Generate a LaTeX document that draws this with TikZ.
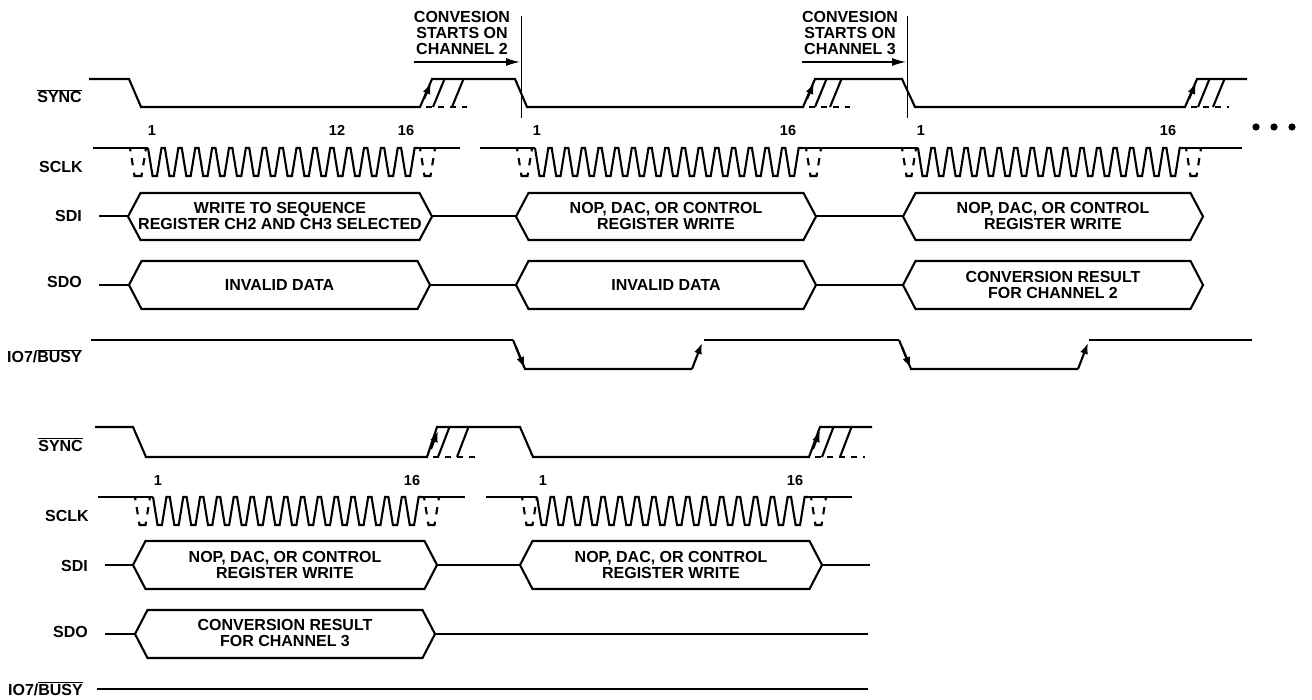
\documentclass[tikz,border=0pt]{standalone}
\usepackage{fontspec}
\setmainfont{Liberation Sans}
\usetikzlibrary{arrows.meta,calc}
\tikzset{
  sig/.style={line width=2.1pt,line join=miter,black},
  thin line/.style={line width=1pt,black},
  dsh/.style={line width=2.1pt,dash pattern=on 6pt off 6pt,black},
  lab/.style={font=\fontsize{16}{16}\selectfont\bfseries,align=center,inner sep=0pt,text=black},
  num/.style={font=\fontsize{14.5}{16}\selectfont\bfseries,inner sep=0pt,text=black,anchor=base},
  side/.style={lab,anchor=base east},
  head/.style={-{Latex[length=11pt,width=8pt]},line width=2.1pt,black}
}
\newcommand\ovl[1]{\leavevmode\vbox{\hrule height 1.2pt\kern 0.8pt\hbox{#1}}}
\newcommand\clk[4]{%
  \pgfmathsetmacro\per{(#2-#1)/16}%
  \draw[sig] (#1,#3) foreach \i in {0,...,15} {
    -- ({#1+(\i+.27)*\per},#4) -- ({#1+(\i+.53)*\per},#4)
    -- ({#1+(\i+.80)*\per},#3) -- ({#1+(\i+1)*\per},#3)};}
% dashed trapezoid: x top-left, top-right, y top, y bottom
\newcommand\dtrap[4]{%
  \draw[sig] ($(#1,#3)!.36!({#1+4.5},#4)$) -- ($(#1,#3)!.62!({#1+4.5},#4)$);
  \draw[sig] ($(#2,#3)!.36!({#2-4.5},#4)$) -- ($(#2,#3)!.62!({#2-4.5},#4)$);
  \draw[sig] ($(#1,#3)!.88!({#1+4.5},#4)$) -- ({#1+4.5},#4) -- ({#2-4.5},#4) -- ($(#2,#3)!.88!({#2-4.5},#4)$);
  \draw[sig] (#1,#3) -- ($(#1,#3)!.12!({#1+4.5},#4)$);
  \draw[sig] (#2,#3) -- ($(#2,#3)!.12!({#2-4.5},#4)$);}
% tip left, tip right, y top, y bottom, name, text
\newcommand\hexa[6]{%
  \draw[sig] (#1,{(#3+#4)/2}) -- ({#1+12.5},#3) -- ({#2-12.5},#3) -- (#2,{(#3+#4)/2}) -- ({#2-12.5},#4) -- ({#1+12.5},#4) -- cycle;
  \node[lab] (#5) at ({(#1+#2)/2},{(#3+#4)/2-0.5}) {#6};}
% rising-edge cluster: foot, y top, y bottom, slant 2 foot, slant 3 foot, dash end
\newcommand\rise[6]{%
  \draw[sig] (#4,#3) -- ({#4+11.5},#2);
  \draw[sig] (#5,#3) -- ({#5+11.5},#2);
  \draw[dsh] ({#1+6},#3) -- (#6,#3);
  \draw[head] ({#1+4},{#3-8}) -- ({#1+11},{#2+4});}
\begin{document}
\begin{tikzpicture}[x=1pt,y=-1pt]
\path[use as bounding box] (0,0) rectangle (1312,700);
% ---- top block
\draw[sig] (89,79) -- (129,79) -- (141,107) -- (420,107) -- (432,79) -- (515,79) -- (527,107) -- (803,107) -- (815,79) -- (902,79) -- (915,107) -- (1185,107) -- (1197,79) -- (1247,79);
\rise{420}{79}{107}{433}{452}{467}
\rise{803}{79}{107}{815}{830}{850}
\rise{1185}{79}{107}{1198}{1213}{1229}
\draw[thin line] (521,16) -- (521,118);
\draw[thin line] (907,16) -- (907,118);
\coordinate (a1s) at (414,62); \coordinate (a1e) at (520,62);
\coordinate (a2s) at (802,62); \coordinate (a2e) at (906,62);
\draw[-{Latex[length=14pt,width=8pt]},line width=1.4pt] (a1s) -- (a1e);
\draw[-{Latex[length=14pt,width=8pt]},line width=1.4pt] (a2s) -- (a2e);
\node[lab] (c1) at (462,33) {CONVESION\\STARTS ON\\CHANNEL 2};
\node[lab] (c2) at (850,33) {CONVESION\\STARTS ON\\CHANNEL 3};
\foreach \x/\t/\n in {152/1/a,337/12/b,406/16/c,537/1/d,788/16/e,921/1/f,1168/16/g}
  \node[num] (n\n) at (\x,136) {\t};
\foreach \x/\n in {1256/a,1274/b,1292/c}
  \fill[black] (\x,127) circle (3.6pt) node (dot\n) {};
% SCLK
\draw[sig] (93,148) -- (148,148);
\clk{148}{418}{148}{176}
\draw[sig] (418,148) -- (460,148);
\draw[sig] (480,148) -- (535,148);
\clk{535}{802}{148}{176}
\draw[sig] (802,148) -- (918,148);
\clk{918}{1183}{148}{176}
\draw[sig] (1183,148) -- (1242,148);
\dtrap{130}{146}{148}{176}
\dtrap{420}{435}{148}{176}
\dtrap{517}{532}{148}{176}
\dtrap{806}{821}{148}{176}
\dtrap{902}{916}{148}{176}
\dtrap{1186}{1201}{148}{176}
% SDI
\draw[sig] (99,216) -- (128,216);
\hexa{128}{432}{193}{240}{h1}{WRITE TO SEQUENCE\\REGISTER CH2 AND CH3 SELECTED}
\draw[sig] (432,216) -- (516,216);
\hexa{516}{816}{193}{240}{h2}{NOP, DAC, OR CONTROL\\REGISTER WRITE}
\draw[sig] (816,216) -- (903,216);
\hexa{903}{1203}{193}{240}{h3}{NOP, DAC, OR CONTROL\\REGISTER WRITE}
% SDO
\draw[sig] (99,285) -- (129,285);
\hexa{129}{430}{261}{309}{h4}{INVALID DATA}
\draw[sig] (430,285) -- (516,285);
\hexa{516}{816}{261}{309}{h5}{INVALID DATA}
\draw[sig] (816,285) -- (903,285);
\hexa{903}{1203}{261}{309}{h6}{CONVERSION RESULT\\FOR CHANNEL 2}
% BUSY
\draw[sig] (91,340) -- (513,340);
\draw[sig] (513,340) -- (525,369) -- (692,369);
\draw[head] (516,347) -- (524.5,368);
\draw[head] (692,369) -- (702,343);
\draw[sig] (704,340) -- (899,340);
\draw[sig] (899,340) -- (911,369) -- (1078,369);
\draw[head] (902,347) -- (910.5,368);
\draw[head] (1078,369) -- (1088,343);
\draw[sig] (1089,340) -- (1252,340);
% labels
\node[side] (l1) at (82,103) {\ovl{SYNC}};
\node[side] (l2) at (83,173) {SCLK};
\node[side] (l3) at (82,222) {SDI};
\node[side] (l4) at (82,288) {SDO};
\node[side] (l5) at (82,363) {IO7/\ovl{BUSY}};
% ---- lower block
\draw[sig] (95,427) -- (133,427) -- (146,457) -- (427,457) -- (437,427) -- (520,427) -- (533,457) -- (809,457) -- (820,427) -- (872,427);
\rise{427}{427}{457}{438}{457}{475}
\rise{809}{427}{457}{822}{840}{865}
\foreach \x/\t/\n in {158/1/a,412/16/b,543/1/c,795/16/d}
  \node[num] (m\n) at (\x,485) {\t};
\draw[sig] (98,497) -- (153,497);
\clk{153}{422}{497}{525}
\draw[sig] (422,497) -- (465,497);
\draw[sig] (486,497) -- (537,497);
\clk{537}{808}{497}{525}
\draw[sig] (808,497) -- (852,497);
\dtrap{135}{150}{497}{525}
\dtrap{424}{439}{497}{525}
\dtrap{522}{537}{497}{525}
\dtrap{811}{826}{497}{525}
\draw[sig] (105,565) -- (133,565);
\hexa{133}{437}{541}{589}{k1}{NOP, DAC, OR CONTROL\\REGISTER WRITE}
\draw[sig] (437,565) -- (520,565);
\hexa{520}{822}{541}{589}{k2}{NOP, DAC, OR CONTROL\\REGISTER WRITE}
\draw[sig] (822,565) -- (870,565);
\draw[sig] (105,634) -- (135,634);
\hexa{135}{435}{610}{658}{k3}{CONVERSION RESULT\\FOR CHANNEL 3}
\draw[sig] (435,634) -- (868,634);
\draw[sig] (97,689) -- (868,689);
\node[side] (q1) at (83,451) {\ovl{SYNC}};
\node[side] (q2) at (89,521) {SCLK};
\node[side] (q3) at (88,571) {SDI};
\node[side] (q4) at (88,637) {SDO};
\node[side] (q5) at (83,695) {IO7/\ovl{BUSY}};
\end{tikzpicture}
\end{document}
